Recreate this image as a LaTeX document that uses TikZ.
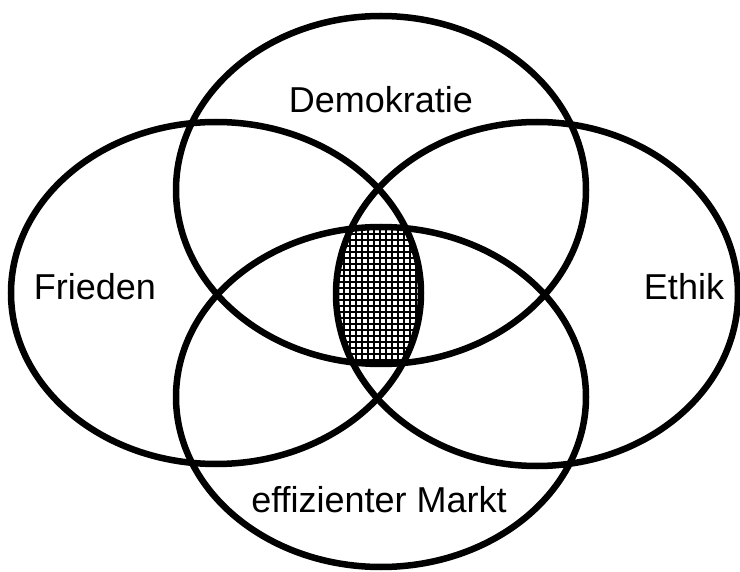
\documentclass[tikz,border=0pt]{standalone}
\usepackage{fontspec}
\setmainfont{Liberation Sans}
\usepackage{tikz}

\tikzset{
  ring/.style={draw=black, line width=6.5pt},
  label/.style={font=\fontsize{36}{42}\selectfont, inner sep=0pt},
  hatch/.style={line width=2pt},
}

\begin{document}
\begin{tikzpicture}[x=1pt, y=-1pt]
    \useasboundingbox (0,0) rectangle (740,572);
    % grid in the common part of all four rings
    \begin{scope}
      \clip (381,190) ellipse [x radius=205pt, y radius=174pt];
      \clip (381,397) ellipse [x radius=205pt, y radius=170pt];
      \clip (216,293) ellipse [x radius=205pt, y radius=171pt];
      \clip (537,294) ellipse [x radius=201pt, y radius=172pt];
      \foreach \x in {320,326,...,440}
        \draw[hatch] (\x,210) -- (\x,380);
      \foreach \y in {210,216,...,380}
        \draw[hatch] (320,\y) -- (440,\y);
    \end{scope}
    % the four rings
    \draw[ring] (381,190) ellipse [x radius=205pt, y radius=174pt];
    \draw[ring] (381,397) ellipse [x radius=205pt, y radius=170pt];
    \draw[ring] (216,293) ellipse [x radius=205pt, y radius=171pt];
    \draw[ring] (537,294) ellipse [x radius=201pt, y radius=172pt];
    % labels
    \node[label] (demokratie) at (381,100) {Demokratie};
    \node[label] (frieden) at (95,287) {Frieden};
    \node[label] (ethik) at (684,287) {Ethik};
    \node[label] (markt) at (379,500) {effizienter Markt};
\end{tikzpicture}
\end{document}
